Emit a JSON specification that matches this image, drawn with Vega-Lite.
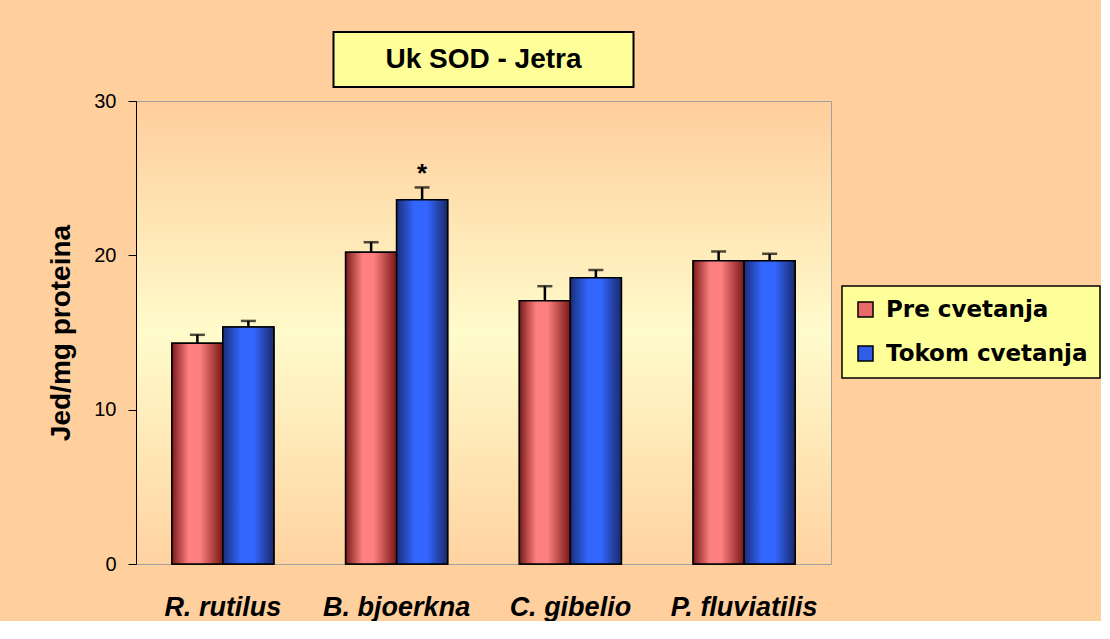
{
  "$schema": "https://vega.github.io/schema/vega-lite/v6.json",
  "background": "#FFCF9E",
  "padding": {"left": 47, "top": 31, "right": 0, "bottom": 0},
  "config": {
    "font": "Liberation Sans",
    "view": {"stroke": null},
    "legend": {"strokeWidth": 1.5}
  },
  "datasets": {
    "sod": [
      {"species": "R. rutilus", "series": "Pre cvetanja", "value": 14.3, "upper": 14.85, "sig": ""},
      {"species": "R. rutilus", "series": "Tokom cvetanja", "value": 15.35, "upper": 15.75, "sig": ""},
      {"species": "B. bjoerkna", "series": "Pre cvetanja", "value": 20.2, "upper": 20.85, "sig": ""},
      {"species": "B. bjoerkna", "series": "Tokom cvetanja", "value": 23.6, "upper": 24.4, "sig": "*"},
      {"species": "C. gibelio", "series": "Pre cvetanja", "value": 17.05, "upper": 18.0, "sig": ""},
      {"species": "C. gibelio", "series": "Tokom cvetanja", "value": 18.55, "upper": 19.05, "sig": ""},
      {"species": "P. fluviatilis", "series": "Pre cvetanja", "value": 19.65, "upper": 20.25, "sig": ""},
      {"species": "P. fluviatilis", "series": "Tokom cvetanja", "value": 19.65, "upper": 20.1, "sig": ""}
    ]
  },
  "spacing": 14,
  "center": true,
  "bounds": "flush",
  "vconcat": [
    {
      "width": 300,
      "height": 55,
      "view": {"fill": "#FFFF99", "stroke": "#000000", "strokeWidth": 2},
      "data": {"values": [{}]},
      "mark": {"type": "text", "font": "Liberation Sans", "fontWeight": "bold", "fontSize": 28, "baseline": "middle", "align": "center", "color": "#000000"},
      "encoding": {"text": {"value": "Uk SOD - Jetra"}}
    },
    {
      "width": 695,
      "height": 463,
      "view": {
        "fill": {"gradient": "linear", "x1": 0, "y1": 0, "x2": 0, "y2": 1,
          "stops": [
            {"offset": 0, "color": "#FFCE9C"},
            {"offset": 0.5, "color": "#FFFBCB"},
            {"offset": 1, "color": "#FFD3A1"}
          ]},
        "stroke": "#A0A0A0",
        "strokeWidth": 1
      },
      "data": {"name": "sod"},
      "encoding": {
        "x": {
          "field": "species", "type": "nominal", "sort": null,
          "scale": {"paddingInner": 0.413, "paddingOuter": 0.2065},
          "axis": {
            "title": null, "ticks": false, "domain": false,
            "labelFont": "Liberation Sans", "labelFontStyle": "italic", "labelFontWeight": "bold",
            "labelFontSize": 27, "labelPadding": 30, "labelColor": "#000000", "labelAngle": 0, "labelLimit": 300
          }
        },
        "xOffset": {"field": "series", "type": "nominal", "sort": null, "scale": {"domain": ["Pre cvetanja", "Tokom cvetanja"]}},
        "y": {
          "field": "value", "type": "quantitative",
          "scale": {"domain": [0, 30], "nice": false},
          "axis": {
            "values": [0, 10, 20, 30], "grid": false,
            "domainColor": "#000000", "tickColor": "#000000", "tickSize": 8,
            "labelFontSize": 20, "labelPadding": 12, "labelColor": "#000000",
            "title": "Jed/mg proteina", "titleFontSize": 28, "titleFontWeight": "bold",
            "titlePadding": 18, "titleColor": "#000000"
          }
        }
      },
      "layer": [
        {
          "mark": {"type": "rule", "color": "#000000", "strokeWidth": 2.5},
          "encoding": {
            "y2": {"field": "upper"}
          }
        },
        {
          "mark": {"type": "tick", "color": "#000000", "size": 15, "thickness": 2.5},
          "encoding": {
            "y": {"field": "upper", "type": "quantitative"}
          }
        },
        {
          "mark": {"type": "bar", "stroke": "#000000", "strokeWidth": 1.5},
          "encoding": {
            "fill": {
              "field": "series", "type": "nominal", "sort": null,
              "scale": {"domain": ["Pre cvetanja", "Tokom cvetanja"], "range": ["#E86A6A", "#2F5DE8"]},
              "legend": {
                "orient": "none", "legendX": 706, "legendY": 254, "title": null,
                "fillColor": "#FFFF99", "strokeColor": "#000000", "padding": 12,
                "symbolType": "square", "symbolSize": 225, "symbolStrokeColor": "#000000", "symbolStrokeWidth": 1.5,
                "labelFont": "DejaVu Sans", "labelFontWeight": "bold", "labelFontSize": 23,
                "labelColor": "#000000", "labelOffset": 9, "rowPadding": 20, "labelLimit": 400
              }
            }
          }
        },
        {
          "transform": [{"filter": "datum.series == 'Pre cvetanja'"}],
          "mark": {"type": "bar", "stroke": "#000000", "strokeWidth": 1.5,
            "fill": {"gradient": "linear", "x1": 0, "y1": 0, "x2": 1, "y2": 0,
              "stops": [
                {"offset": 0, "color": "#7a1a1a"},
                {"offset": 0.33, "color": "#ff8080"},
                {"offset": 0.55, "color": "#ff8080"},
                {"offset": 1, "color": "#781616"}
              ]}},
          "encoding": {}
        },
        {
          "transform": [{"filter": "datum.series == 'Tokom cvetanja'"}],
          "mark": {"type": "bar", "stroke": "#000000", "strokeWidth": 1.5,
            "fill": {"gradient": "linear", "x1": 0, "y1": 0, "x2": 1, "y2": 0,
              "stops": [
                {"offset": 0, "color": "#1a2f7a"},
                {"offset": 0.35, "color": "#3366ff"},
                {"offset": 0.6, "color": "#3366ff"},
                {"offset": 1, "color": "#1a2a6a"}
              ]}},
          "encoding": {}
        },
        {
          "transform": [{"filter": "datum.sig != ''"}],
          "mark": {"type": "text", "fontSize": 26, "fontWeight": "bold", "baseline": "alphabetic", "dy": -5, "color": "#000000"},
          "encoding": {
            "y": {"field": "upper", "type": "quantitative"},
            "text": {"field": "sig"}
          }
        }
      ]
    }
  ]
}
